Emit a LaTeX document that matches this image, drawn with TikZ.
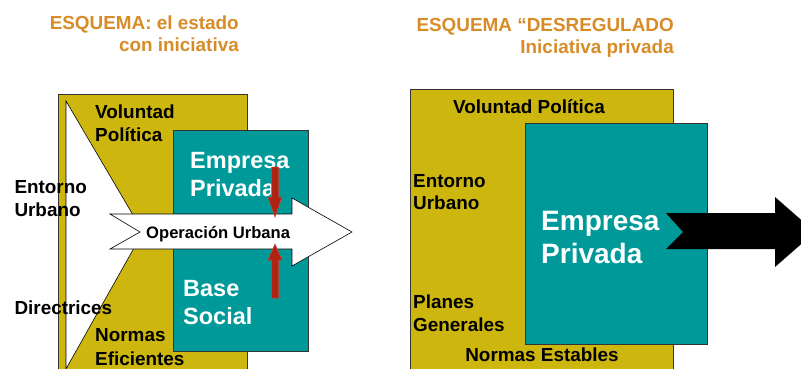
\documentclass[tikz,border=0pt]{standalone}
\usepackage{fontspec}
\setmainfont{Liberation Sans}
\definecolor{ochre}{RGB}{205,183,14}
\definecolor{teal2}{RGB}{0,153,153}
\definecolor{titleor}{RGB}{215,140,40}
\definecolor{redarr}{RGB}{175,35,20}
\definecolor{redrim}{RGB}{205,70,50}
\tikzset{
  lbl/.style={inner sep=0pt, anchor=base west, font=\fontsize{18.9}{22}\selectfont\bfseries},
  ttl/.style={inner sep=0pt, anchor=base east, text=titleor, font=\fontsize{18.9}{22}\selectfont\bfseries},
  wlbl/.style={inner sep=0pt, anchor=base west, text=white, font=\fontsize{23.5}{27}\selectfont\bfseries},
  bigw/.style={inner sep=0pt, anchor=base west, text=white, font=\fontsize{28}{33}\selectfont\bfseries},
  panel/.style={fill=ochre, draw=black!80, line width=0.6pt},
  boxt/.style={fill=teal2, draw=black!80, line width=0.6pt},
  redar/.style={fill=redarr, draw=redrim, line width=0.5pt}
}
\begin{document}
\begin{tikzpicture}[x=1pt,y=-1pt]
\useasboundingbox (0,0) rectangle (801,369);
% ---------- left scheme ----------
\node[ttl] (t1a) at (239,29.3) {ESQUEMA: el estado};
\node[ttl] (t1b) at (239,52) {con iniciativa};
\draw[panel] (58.5,94) rectangle (247.5,375);
\draw[fill=white, draw=black, line width=0.6pt] (66,101) -- (143,232) -- (66,369) -- cycle;
\draw[boxt] (173,130) rectangle (308,351);
\node[lbl] (vp1) at (95,118.3) {Voluntad};
\node[lbl] (vp2) at (95,141.5) {Política};
\node[wlbl] (ep1) at (190,168.3) {Empresa};
\node[wlbl] (ep2) at (190,196.7) {Privada};
\node[lbl] (eu1) at (14.3,193.3) {Entorno};
\node[lbl] (eu2) at (14.3,216) {Urbano};
\node[lbl] (dir) at (14.3,314) {Directrices};
\node[lbl] (ne1) at (95,341) {Normas};
\node[lbl] (ne2) at (95,365) {Eficientes};
\node[wlbl] (bs1) at (183,296.7) {Base};
\node[wlbl] (bs2) at (183,324.5) {Social};
\draw[fill=white, draw=black, line width=0.6pt]
  (110,214) -- (292,214) -- (292,198) -- (352,232) -- (292,266) -- (292,249) -- (110,249) -- (140,232) -- cycle;
\node[lbl, font=\fontsize{16.6}{19}\selectfont\bfseries] (ou) at (146,238.3) {Operación Urbana};
\draw[redar] (271.5,167) -- (278.5,167) -- (278.5,197) -- (282,197) -- (275,217) -- (268,197) -- (271.5,197) -- cycle;
\draw[redar] (271.5,298) -- (278.5,298) -- (278.5,260) -- (282,260) -- (275,244) -- (268,260) -- (271.5,260) -- cycle;
% ---------- right scheme ----------
\node[ttl] (t2a) at (674,31.7) {ESQUEMA “DESREGULADO};
\node[ttl] (t2b) at (674,54) {Iniciativa privada};
\draw[panel] (410,89) rectangle (673,375);
\draw[boxt] (525,123) rectangle (707,344);
\node[lbl, anchor=base] (vp) at (529,113.3) {Voluntad Política};
\node[lbl] (eu3) at (413,187.3) {Entorno};
\node[lbl] (eu4) at (413,209.3) {Urbano};
\node[lbl] (pg1) at (413,308.3) {Planes};
\node[lbl] (pg2) at (413,331) {Generales};
\node[lbl, anchor=base] (nes) at (542,361.7) {Normas Estables};
\node[bigw] (ep3) at (541,230) {Empresa};
\node[bigw] (ep4) at (541,263.3) {Privada};
\fill[black] (666,213) -- (775,213) -- (775,197) -- (815,232) -- (775,267) -- (775,249) -- (666,249) -- (683,232) -- cycle;
\end{tikzpicture}
\end{document}
